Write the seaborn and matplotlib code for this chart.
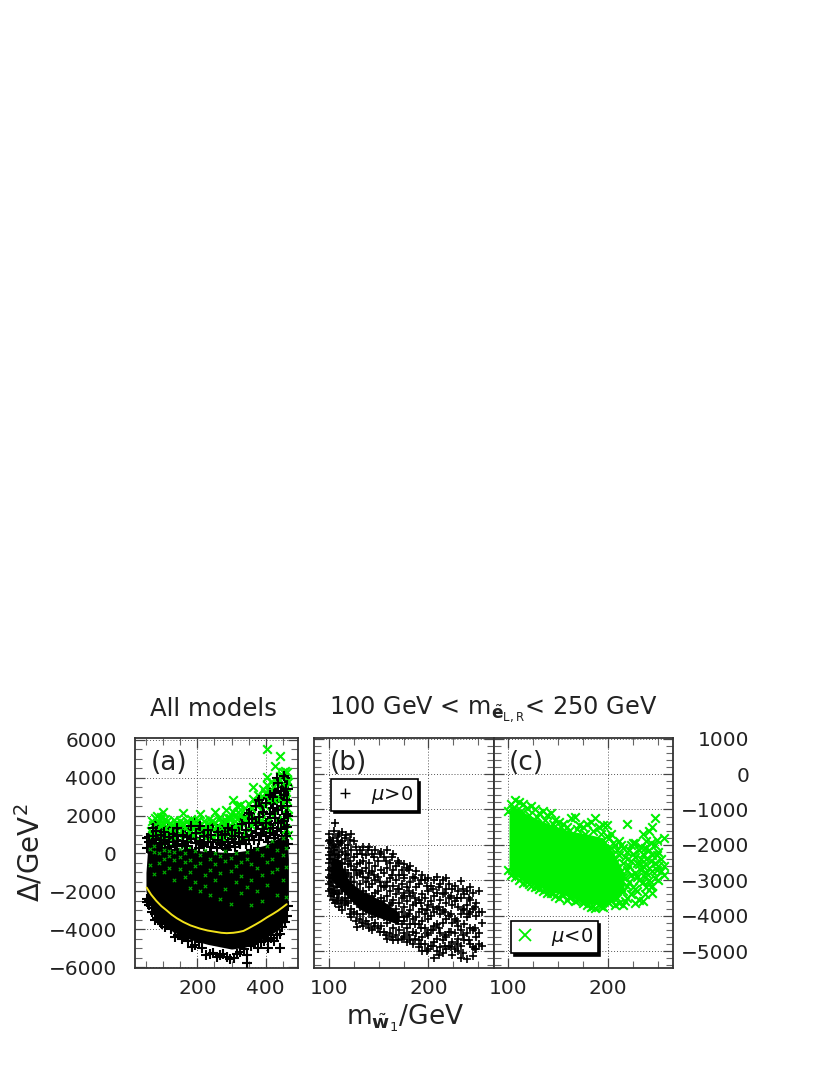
import matplotlib
matplotlib.use("Agg")
import matplotlib.pyplot as plt
from matplotlib.ticker import MultipleLocator
from matplotlib.lines import Line2D
import seaborn as sns
import pandas as pd

GREEN = "#00f000"

# panel (a): solid black core, read as an envelope
a_core_x = [50, 56, 65, 80, 100, 130, 180, 230, 300, 340, 400, 440, 456, 463, 466]
a_core_hi = [-1000, 500, 750, 600, 350, 250, 200, 100, 50, 150, 450, 850, 1100, 900, -300]
a_core_lo = [-2000, -2450, -2900, -3400, -3750, -4150, -4550, -4800, -5050, -4950, -4450, -4000, -3500, -2900, -2300]

# panel (a): yellow curve
curve_x = [52, 65, 80, 95, 110, 125, 140, 159, 180, 208, 230, 250, 270, 286, 305, 320, 335, 352, 370, 387, 403, 420, 435, 448, 461]
curve_y = [-1800, -2170, -2500, -2780, -3000, -3230, -3420, -3620, -3800, -3970, -4070, -4130, -4190, -4210, -4190, -4150, -4090, -3930, -3750, -3570, -3380, -3200, -3030, -2860, -2680]

# panel (a): green crosses, one list of y per x
a_green_x = [66, 72, 81, 90, 100, 112, 125, 138, 150, 159, 170, 182, 195, 207, 220, 235, 251, 262,
             275, 285, 295, 305, 315, 325, 340, 352, 364, 378, 392, 403, 415, 426, 441, 450, 455, 462, 466]
a_green_y = [
    [1200, 800], [1500, 1100], [2000, 1500], [1800, 1300, 700], [2170, 1600, 500], [1700, 1200, 300],
    [1500, 1000], [1600, 1200], [1400, 1700], [2130, 1500], [1700, 0, -300, 200], [1500, 1800, 100],
    [1600, 1200], [2080, 1500], [1700, 1300], [1500, 1800], [2170, 1600], [1900, 1400],
    [1700, 1300], [2300, 1700], [1900, 1500], [2800, 2200], [2500, 1800], [2550, 2100], [2000, 2400],
    [2600, 2200], [3530, 2900], [2700, 3100], [3000, 3400], [5520, 4020, 3600], [3300, 3800],
    [4630, 3400], [5160, 4100], [4300, 3700], [4370, 3000], [4300, 3900, 2400], [3800, 2000, 1000],
]

# panel (a): more green behind the upper band
a_green2_x = [69, 77, 86, 95, 106, 118, 131, 144, 155, 165, 176, 188, 201, 213, 227, 243, 256, 268,
              280, 290, 300, 310, 320, 332, 346, 358, 371, 385, 398, 410, 421, 433, 446, 459]
a_green2_y = [
    [1000, 1700], [1250, 1850], [1050, 1650], [1450, 1950], [900, 1350, 1800], [1100, 1550],
    [850, 1400, 1750], [1050, 1550], [1200, 1600], [900, 1350], [1150, 1550], [1000, 1300, 1650],
    [1150, 1750], [950, 1350], [1100, 1550], [900, 1250, 1700], [1050, 1400], [850, 1200, 1650],
    [1000, 1500], [1200, 1900], [950, 1350], [1100, 1700, 2000], [1250, 1550, 2200], [1000, 1800],
    [1350, 1750], [1500, 2400], [1900, 2600], [1750, 2300], [1600, 2500, 3200], [1300, 2800, 3300],
    [2000, 2900], [1750, 3000, 3700], [1500, 2600, 4150], [1300, 2900, 3500],
]

# panel (a): green seen through the black
a_fleck_x = [62, 74, 88, 102, 118, 132, 148, 163, 178, 192, 207, 222, 238, 253, 267, 282, 297, 312,
             328, 344, 358, 373, 389, 404, 419, 434, 449, 460]
a_fleck_y = [
    [250, -600], [400, -1100, 100], [50, -500], [200, -300, -1000], [-150, -750, 150], [100, -350, -1400],
    [-200, -800, 250], [50, -450, -1250], [-350, -1000, -1800], [150, -650, -1500], [-100, -500, -2000],
    [200, -1150, -1700], [-300, -850, -2200], [50, -550, -1400], [-150, -1050, -2400], [150, -400, -1900],
    [-250, -950, -2650], [50, -650, -1500], [-450, -1200, -2100], [100, -300, -1750], [-550, -1400, -2700],
    [250, -750, -2000], [-100, -1150, -2500], [400, -450, -1650], [650, -300, -1000], [200, -800, -2200],
    [800, -100, -1400], [300, -700, -2300],
]

# panel (a): black plus marks
a_plus_x = [54, 60, 68, 75, 83, 90, 98, 106, 114, 124, 134, 144, 154, 164, 174, 184, 194, 204, 214,
            224, 236, 246, 256, 266, 276, 286, 296, 306, 316, 326, 336, 346, 356, 366, 376, 386, 396,
            406, 416, 424, 432, 440, 448, 455, 461, 465]
a_plus_y = [
    [800, 300, -2400, -2550], [860, -2700, -2500], [1000, 700, -2900, -3100], [1570, 1100, 400, -3200, -3500],
    [1500, 900, 100, -3400], [1300, 700, -3600], [860, 300, -300, -3700], [1000, 500, -200, -3900],
    [1400, 600, -100, -3750], [900, 200, -400, -4000], [1100, 400, -500, -4400], [700, 0, -600, -4300],
    [1300, 500, -300, -4500], [1100, 100, -800, -4400], [1250, 600, -600, -4650], [1000, 200, -1000, -4930],
    [1680, 800, -400, -4850], [1300, 300, -900, -4700], [1100, 500, -600, -5000], [1000, -100, -1100, -5370],
    [800, 100, -700, -5300], [1500, 600, -500, -5250], [1300, 300, -1000, -5450], [1100, 500, -300, -5350],
    [1500, 700, -800, -5300], [1200, 200, -600, -5480], [1000, 400, -1100, -5550], [1400, 600, -400, -5500],
    [1300, -100, -900, -5300], [1500, 500, -700, -5200], [1800, 800, -300, -5050], [2000, 1000, -600, -5800, -5350],
    [2300, 1200, 200, -4900], [1900, 700, -800, -4800], [2700, 1500, 300, -5000], [2500, 1000, -200, -4700],
    [2100, 1300, -500, -4600], [2950, 1700, 600, -5000, -4500], [2600, 1500, 100, -4450], [3400, 2200, 800, -4600],
    [4000, 2700, 1200, -4300], [3000, 1800, 200, -5000, -4250], [3500, 2400, 900, -3900], [4000, 2900, 1500, 300, -3600],
    [3600, 2500, 1100, -3300], [3400, 2000, 500, -2800],
]

# panel (a): extra plus marks over the speckled zone
a_plus2_x = [58, 71, 79, 93, 103, 117, 129, 140, 158, 169, 181, 197, 209, 219, 231, 241, 259, 271, 281, 291,
             301, 311, 321, 331, 341, 351, 361, 371, 381, 391, 401, 411, 420, 428, 436, 444, 452, 458, 463]
a_plus2_y = [
    [600], [900, 1350], [750, 1200], [550, 1000], [700, 1150], [350, 850], [600, 1050], [400, 900, 1350],
    [650, 1000], [400, 850], [750, 1450], [550, 1100], [650, 1450], [400, 900], [600, 1250], [350, 1000],
    [700, 1150], [450, 950], [300, 1050], [600, 1350], [750, 1250], [350, 900], [600, 1100], [850, 1550],
    [500, 1250], [700, 1600, 2150], [900, 1800], [1100, 1600, 2500], [700, 1950, 2800], [1300, 2200],
    [900, 1600, 2650], [1100, 2100, 3100], [1350, 2400, 3000], [1000, 1900, 3200], [1600, 2300, 3700],
    [1300, 2500, 3300], [1700, 3100, 4100], [900, 2100, 3400], [1400, 2800],
]

# panel (b): densest part, read as an envelope
b_core_x = [102, 110, 120, 130, 140, 155, 170]
b_core_hi = [-2350, -2400, -3000, -3250, -3400, -3600, -3900]
b_core_lo = [-2950, -3200, -3500, -3800, -3950, -4100, -4250]

# panel (b): one list of y per x
b_x = [100, 102, 104, 106, 108, 110, 113, 116, 119, 122, 125, 128, 131, 134, 137, 140, 143, 146, 149, 152,
       155, 158, 161, 164, 167, 170, 173, 176, 179, 182, 185, 188, 191, 194, 197, 200, 203, 206, 209, 212,
       215, 218, 221, 224, 227, 230, 233, 236, 239, 242, 245, 248, 251, 254]
b_y = [
    [-1700, -1900, -2100, -2300, -2500, -2700, -2900, -3100, -3300], [-1950, -2200, -2400, -2650, -2850, -3050, -3250, -3450],
    [-1800, -2000, -2250, -2500, -2750, -2950, -3150, -3350, -3550], [-1390, -2050, -2300, -2550, -2800, -3000, -3300, -3650],
    [-1900, -2150, -2450, -2700, -2900, -3200, -3400, -3600], [-1700, -2000, -2300, -2600, -2850, -3100, -3350, -3750],
    [-1650, -1900, -2200, -2500, -2750, -3050, -3300, -3550, -3850], [-1800, -2100, -2400, -2700, -3000, -3250, -3500, -3700],
    [-2000, -2300, -2550, -2800, -3150, -3400, -3650], [-1700, -2150, -2600, -2900, -3200, -3500, -3800, -4050],
    [-1900, -2350, -2700, -3050, -3350, -3600, -3900], [-2250, -2550, -2850, -3250, -3550, -3950, -4320],
    [-2150, -2500, -2800, -3100, -3450, -3750, -4100], [-2050, -2450, -2900, -3300, -3650, -3950, -4300],
    [-2300, -2650, -3050, -3400, -3800, -4150], [-2050, -2500, -2800, -3200, -3550, -3900, -4350],
    [-2250, -2750, -3100, -3450, -3750, -4050, -4400], [-2150, -2600, -3000, -3350, -3700, -4200],
    [-2450, -2900, -3300, -3650, -4000, -4350], [-2200, -2700, -3150, -3500, -3900, -4300],
    [-2350, -2800, -3200, -3600, -4050, -4450], [-2150, -2650, -3050, -3450, -3850, -4200, -4650],
    [-2500, -2950, -3300, -3700, -4100, -4500], [-2250, -2700, -3150, -3550, -3950, -4350, -4700],
    [-2600, -3000, -3400, -3800, -4150, -4550], [-2500, -2850, -3250, -3650, -4050, -4400],
    [-2700, -3100, -3500, -3900, -4250, -4650], [-2550, -2950, -3350, -3750, -4150, -4600],
    [-2650, -3200, -3600, -4000, -4350, -4750], [-2600, -3050, -3450, -3850, -4250, -4700],
    [-2900, -3350, -3700, -4100, -4450, -4800], [-2750, -3200, -3650, -4050, -4500],
    [-3100, -3550, -3900, -4250, -4700, -4900], [-2850, -3400, -3800, -4150, -4600, -5000],
    [-3000, -3500, -3950, -4350, -4800], [-2950, -3300, -3700, -4100, -4550, -4950],
    [-3150, -3600, -4000, -4400, -4850], [-3000, -3450, -3900, -4300, -4750, -5190],
    [-2900, -3350, -3800, -4250, -4650, -5000], [-3100, -3550, -3950, -4500, -4900],
    [-3000, -3400, -3850, -4200, -4700, -5050], [-2950, -3250, -3650, -4100, -4600, -4950],
    [-3100, -3500, -4000, -4450, -4850], [-3250, -3700, -4200, -4750, -5100],
    [-3150, -3600, -4100, -4500, -4950], [-3300, -3750, -4300, -4650, -5000],
    [-3020, -3500, -3950, -4400, -4850, -5200], [-3400, -3850, -4250, -4700],
    [-3300, -3700, -4050, -4500, -5230], [-3200, -3550, -3900, -4350, -4800],
    [-3350, -3800, -4400, -4900, -5150], [-3650, -4000, -4600, -4950], [-3300, -3900, -4500, -4800], [-3900, -4200, -4850],
]

# panel (b): second pass of plus marks between the first ones
b2_x = [101, 105, 109, 112, 117, 121, 127, 133, 139, 145, 151, 157, 163, 169, 175, 181, 187, 193, 199,
        205, 211, 217, 223, 229, 235, 241, 247]
b2_y = [
    [-1850, -2400, -2950], [-1600, -2150, -2650, -3400], [-1750, -2350, -3000, -3500], [-1950, -2550, -3150, -3650],
    [-1720, -2250, -2850, -3600], [-1850, -2450, -3050, -3950], [-2050, -2700, -3400, -4150], [-2250, -2750, -3500, -4200],
    [-2150, -2950, -3650, -4250], [-2350, -2850, -3550, -4300], [-2250, -3050, -3750, -4450], [-2450, -3150, -3950, -4550],
    [-2350, -2850, -3650, -4600], [-2450, -3250, -4150, -4700], [-2850, -3450, -4050, -4500], [-2700, -3300, -3950, -4550],
    [-2950, -3500, -4250, -4650], [-3000, -3650, -4350, -4800], [-3150, -3850, -4500, -5000], [-3250, -3750, -4400, -4850],
    [-3200, -3750, -4350, -5100], [-3350, -3900, -4550, -4850], [-3450, -3950, -4450, -4900], [-3500, -4150, -4800],
    [-3250, -3800, -4550, -5050], [-3500, -3950, -4700], [-3750, -4350, -4950],
]

# panel (c): solid green core, read as an envelope
c_core_x = [101, 105, 120, 140, 160, 180, 195, 207, 216]
c_core_hi = [-1050, -900, -1150, -1400, -1600, -1700, -1800, -2300, -2800]
c_core_lo = [-2700, -2850, -3050, -3300, -3450, -3650, -3700, -3550, -3300]

# panel (c): one list of y per x
c_x = [100, 103, 107, 111, 115, 119, 123, 127, 131, 135, 139, 143, 147, 151, 155, 159, 163, 167, 171, 175,
       179, 183, 187, 191, 195, 199, 203, 207, 211, 215, 219, 223, 227, 231, 235, 238, 241, 244, 247, 250, 253, 256]
c_y = [
    [-1050, -2700], [-850, -2850], [-730, -2900], [-800, -3000], [-850, -3080], [-960, -3050], [-900, -3150],
    [-1000, -3200], [-1100, -3250], [-1050, -3300], [-1150, -3360], [-1100, -3350], [-1300, -3450],
    [-1350, -3500], [-1400, -3420], [-1500, -3550], [-1250, -3480], [-1200, -3600], [-1450, -3520],
    [-1500, -3650], [-1400, -3700], [-1350, -3750], [-1250, -3790], [-1500, -3700], [-1450, -3750],
    [-1450, -1750, -3600], [-1700, -2100, -3550], [-2000, -2500, -3000, -3700], [-1900, -2300, -2800, -3250, -3650],
    [-2100, -2500, -2900, -3300, -3700], [-1400, -2200, -2700, -3150, -3500], [-2000, -2450, -2850, -3400],
    [-1950, -2350, -2800, -3250, -3650], [-2150, -2550, -3000, -3550], [-1700, -2250, -2600, -3050, -3600],
    [-1900, -2400, -2800, -3200], [-1600, -2150, -2650, -3000], [-1500, -2300, -2750, -3150, -3350],
    [-1250, -2000, -2500, -2950], [-2200, -2600, -3000], [-2400, -2750], [-1800, -2600, -2850],
]

# panel (c): second pass filling the right side and the edges
c2_x = [105, 113, 121, 129, 137, 145, 153, 161, 169, 177, 185, 193, 201, 205, 209, 213, 217, 221, 225, 229, 233, 237, 243, 249]
c2_y = [
    [-1000], [-1050, -2950], [-1150, -3100], [-1200, -3150], [-1300, -3250], [-1400, -3350], [-1500, -3400], [-1600, -3480],
    [-1550, -3550], [-1700, -3600], [-1600, -3720], [-1700, -3720], [-1800, -2300, -3650], [-1950, -2400, -3350],
    [-2150, -2650, -3500], [-2000, -2750, -3200], [-2350, -2950, -3600], [-2150, -2600, -3050], [-1950, -2250, -3200],
    [-2500, -2900, -3300], [-2050, -2400, -2700], [-2100, -2900, -3400], [-1950, -2450, -3200], [-1850, -2300, -2700],
]

a_xticks = [200, 400]
a_yticks = [-6000, -4000, -2000, 0, 2000, 4000, 6000]
bc_xticks = [100, 200]
bc_yticks = [-5000, -4000, -3000, -2000, -1000, 0, 1000]


def columns(xs, ys):
    rows = [(x, y) for x, col in zip(xs, ys) for y in col]
    return pd.DataFrame(rows, columns=["x", "y"])


def pixel_axes(fig, left, top, right, bottom):
    return fig.add_axes([left / 830, 1 - bottom / 1075, (right - left) / 830, (bottom - top) / 1075])


def style_axes(ax, xlim, ylim, xticks, yticks, xminor, yminor):
    ax.set_xlim(*xlim)
    ax.set_ylim(*ylim)
    ax.set_xticks(xticks)
    ax.set_yticks(yticks)
    ax.xaxis.set_minor_locator(MultipleLocator(xminor))
    ax.yaxis.set_minor_locator(MultipleLocator(yminor))
    ax.grid(True, which="major", color="#555555", linestyle=(0, (1, 2)), linewidth=0.7)
    ax.set_axisbelow(True)
    ax.tick_params(which="major", direction="in", top=True, right=True, length=7, width=0.9,
                   color="#444444", labelsize=14.5, labelcolor="#222222")
    ax.tick_params(axis="y", which="major", pad=13)
    ax.tick_params(axis="x", which="major", pad=8)
    ax.tick_params(which="minor", direction="in", top=True, right=True, length=5, width=0.8, color="#666666")
    ax.set_xlabel("")
    ax.set_ylabel("")
    for s in ax.spines.values():
        s.set_linewidth(1.3)
        s.set_color("#333333")


sns.set_theme(style="ticks")
plt.rcParams["font.family"] = ["DejaVu Sans"]
plt.rcParams["mathtext.fontset"] = "dejavusans"

fig = plt.figure(figsize=(8.3, 10.75), dpi=100)
ax_a = pixel_axes(fig, 135, 738, 298, 968)
ax_b = pixel_axes(fig, 314, 738, 494, 968)
ax_c = pixel_axes(fig, 494, 738, 673, 968)

# panel (a)
green_kw = dict(marker="x", color=GREEN, s=38, linewidth=1.5)
plus_kw = dict(marker="+", color="black", s=42, linewidth=1.5)
sns.scatterplot(data=columns(a_green_x, a_green_y), x="x", y="y", ax=ax_a, zorder=3, **green_kw)
ax_a.fill_between(a_core_x, a_core_lo, a_core_hi, color="black", linewidth=0, zorder=4)
sns.scatterplot(data=columns(a_plus_x, a_plus_y), x="x", y="y", ax=ax_a, zorder=5, **plus_kw)
sns.scatterplot(data=columns(a_green2_x, a_green2_y), x="x", y="y", ax=ax_a, zorder=5.2, **green_kw)
sns.scatterplot(data=columns(a_plus2_x, a_plus2_y), x="x", y="y", ax=ax_a, zorder=5.4, **plus_kw)
sns.scatterplot(data=columns(a_fleck_x, a_fleck_y), x="x", y="y", ax=ax_a, marker="x", color="#00b000",
                s=6, linewidth=0.8, zorder=6)
sns.lineplot(x=curve_x, y=curve_y, ax=ax_a, color="#f2e21a", linewidth=1.4, sort=False, estimator=None, zorder=7)
style_axes(ax_a, (18, 494), (-6050, 6100), a_xticks, a_yticks, 50, 500)

# panel (b)
ax_b.fill_between(b_core_x, b_core_lo, b_core_hi, color="black", linewidth=0, zorder=3)
sns.scatterplot(data=columns(b_x, b_y), x="x", y="y", ax=ax_b, marker="+", color="black",
                s=36, linewidth=1.2, zorder=3)
sns.scatterplot(data=columns(b2_x, b2_y), x="x", y="y", ax=ax_b, marker="+", color="black",
                s=36, linewidth=1.2, zorder=3)
style_axes(ax_b, (85, 266), (-5480, 1020), bc_xticks, bc_yticks, 25, 200)
ax_b.tick_params(axis="y", labelleft=False)

# panel (c)
ax_c.fill_between(c_core_x, c_core_lo, c_core_hi, color=GREEN, linewidth=0, zorder=3)
sns.scatterplot(data=columns(c_x, c_y), x="x", y="y", ax=ax_c, zorder=4, **green_kw)
sns.scatterplot(data=columns(c2_x, c2_y), x="x", y="y", ax=ax_c, zorder=4, **green_kw)
style_axes(ax_c, (86, 265), (-5480, 1020), bc_xticks, bc_yticks, 25, 200)
ax_c.tick_params(axis="y", which="major", labelleft=False, labelright=True, pad=55)
for lab in ax_c.get_yticklabels():
    lab.set_ha("right")

# legends with the hard black drop shadow
b_handle = Line2D([], [], marker="+", color="black", linestyle="", markersize=7, markeredgewidth=1.0)
c_handle = Line2D([], [], marker="x", color=GREEN, linestyle="", markersize=8, markeredgewidth=1.3)
legend_kw = dict(frameon=True, fancybox=False, edgecolor="black", framealpha=1, fontsize=14,
                 shadow={"color": "black", "alpha": 1, "ox": 2, "oy": -2},
                 handlelength=0.9, handletextpad=0.9, borderpad=0.25, borderaxespad=0,
                 loc="upper left", labelcolor="#111111")
leg_b = ax_b.legend([b_handle], [r"$\mu$>0"], bbox_to_anchor=(0.094, 0.822), **legend_kw)
leg_c = ax_c.legend([c_handle], [r"$\mu$<0"], bbox_to_anchor=(0.095, 0.204), **legend_kw)
leg_b.get_frame().set_linewidth(1.2)
leg_c.get_frame().set_linewidth(1.2)

# panel tags
for ax, tag, xf in [(ax_a, "(a)", 0.095), (ax_b, "(b)", 0.09), (ax_c, "(c)", 0.08)]:
    ax.text(xf, 0.89, tag, transform=ax.transAxes, fontsize=19, color="#222222", va="center", zorder=8)

fig.text(213 / 830, 1 - 709 / 1075, "All models", ha="center", va="center", fontsize=17.6, color="#222222")
fig.text(493 / 830, 1 - 709 / 1075,
         r"100 GeV < m$_{\tilde{\mathbf{e}}_{\mathrm{L,R}}}$< 250 GeV",
         ha="center", va="center", fontsize=17.3, color="#222222")
fig.text(405 / 830, 1 - 1018 / 1075, r"m$_{\tilde{\mathbf{w}}_{1}}$/GeV",
         ha="center", va="center", fontsize=19, color="#222222")
fig.text(30 / 830, 1 - 853 / 1075, r"$\Delta$/GeV$^2$", rotation=90,
         ha="center", va="center", fontsize=20, color="#222222")

fig.savefig("out.png", dpi=100)
